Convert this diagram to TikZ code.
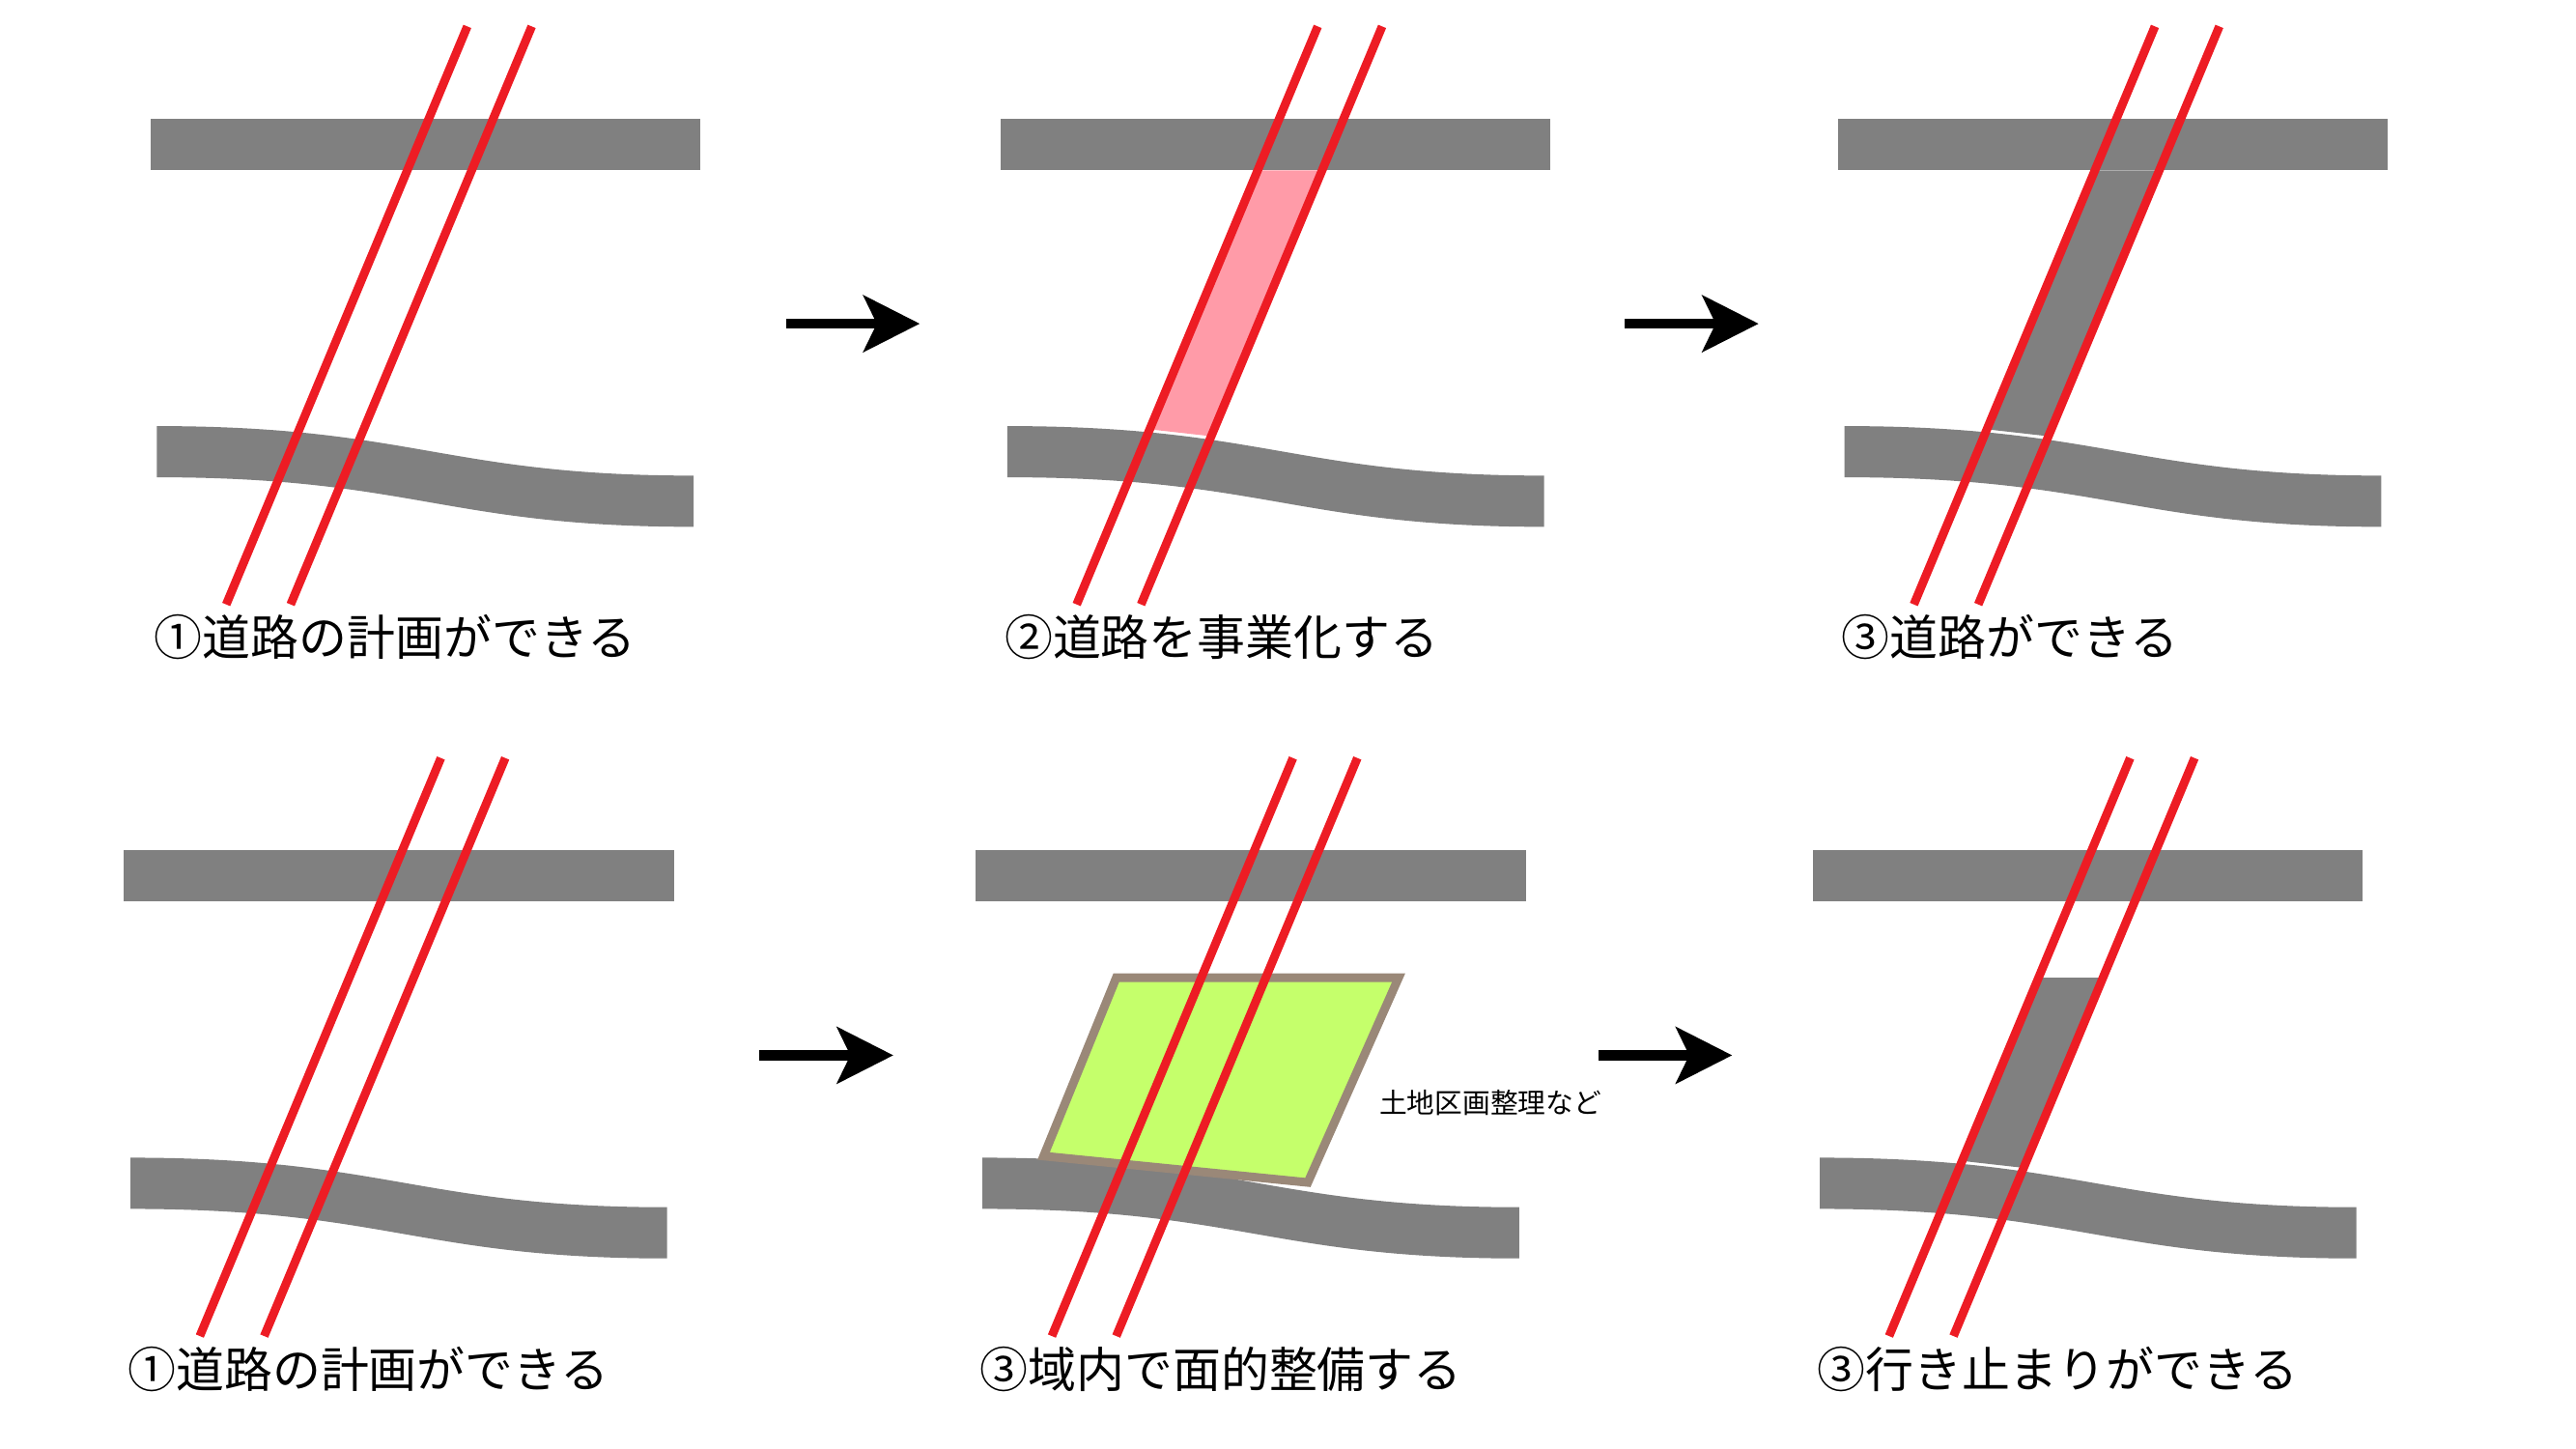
\documentclass[tikz,border=0pt]{standalone}
\usepackage{fontspec}
\setmainfont{Noto Sans CJK JP}
\usetikzlibrary{calc,arrows.meta}
\definecolor{roadgray}{HTML}{808080}
\definecolor{planred}{HTML}{ED1C24}
\definecolor{bizpink}{HTML}{FF9BA8}
\definecolor{areagreen}{HTML}{C5FF6B}
\definecolor{areabrown}{HTML}{9A8878}
% base: two roads and the planned line end points
\newcommand{\roadbase}{%
  \fill[road] (91,72) rectangle (424,103);
  \fill[road] (95,258) .. controls (250,258) and (270,288) .. (420,288)
    -- (420,319) .. controls (270,319) and (250,289) .. (95,289) -- cycle;
  \coordinate (a1) at (283,16);
  \coordinate (b1) at (137,366);
  \coordinate (a2) at (322,16);
  \coordinate (b2) at (176,366);
}
\newcommand{\planlines}{%
  \draw[plan] (a1) -- (b1);
  \draw[plan] (a2) -- (b2);
}
\begin{document}
\begin{tikzpicture}[x=0.5pt,y=-0.5pt,
    road/.style={fill=roadgray},
    plan/.style={draw=planred,line width=2.6pt},
    caption/.style={anchor=west,inner sep=0pt,font=\fontsize{14.6pt}{16pt}\selectfont},
    step arrow/.style={line width=3pt,-{Stealth[length=17pt,width=17pt,inset=4pt]}}]
  \useasboundingbox (0,0) rectangle (1560,877);
  % upper row
  \begin{scope}[name prefix=u1-]
    \roadbase
    \planlines
    \node[caption] (cap) at (93,386) {①道路の計画ができる};
  \end{scope}
  \begin{scope}[shift={(515,0)},name prefix=u2-]
    \roadbase
    \fill[bizpink] ($(a1)!0.249!(b1)$) -- ($(a2)!0.249!(b2)$)
      -- ($(a2)!0.709!(b2)$) -- ($(a1)!0.697!(b1)$) -- cycle;
    \planlines
    \node[caption] (cap) at (93,386) {②道路を事業化する};
  \end{scope}
  \begin{scope}[shift={(1022,0)},name prefix=u3-]
    \roadbase
    \fill[roadgray] ($(a1)!0.249!(b1)$) -- ($(a2)!0.249!(b2)$)
      -- ($(a2)!0.709!(b2)$) -- ($(a1)!0.697!(b1)$) -- cycle;
    \planlines
    \node[caption] (cap) at (93,386) {③道路ができる};
  \end{scope}
  % lower row
  \begin{scope}[shift={(-16,443)},name prefix=l1-]
    \roadbase
    \planlines
    \node[caption] (cap) at (93,386) {①道路の計画ができる};
  \end{scope}
  \begin{scope}[shift={(500,443)},name prefix=l2-]
    \roadbase
    \filldraw[fill=areagreen,draw=areabrown,line width=2.6pt]
      (176,149) -- (347,149) -- (292,273) -- (132,257) -- cycle;
    \planlines
    \node[caption] (cap) at (93,386) {③域内で面的整備する};
    \node[anchor=west,inner sep=0pt,font=\fontsize{8.4pt}{10pt}\selectfont]
      (note) at (335,225) {土地区画整理など};
  \end{scope}
  \begin{scope}[shift={(1007,443)},name prefix=l3-]
    \roadbase
    \fill[roadgray] ($(a1)!0.38!(b1)$) -- ($(a2)!0.38!(b2)$)
      -- ($(a2)!0.709!(b2)$) -- ($(a1)!0.697!(b1)$) -- cycle;
    \planlines
    \node[caption] (cap) at (93,386) {③行き止まりができる};
  \end{scope}
  % arrows between stages
  \coordinate (s1) at (476,196); \coordinate (e1) at (557,196);
  \coordinate (s2) at (984,196); \coordinate (e2) at (1065,196);
  \coordinate (s3) at (460,639); \coordinate (e3) at (541,639);
  \coordinate (s4) at (968,639); \coordinate (e4) at (1049,639);
  \foreach \i in {1,...,4}
    \draw[step arrow] (s\i) -- (e\i);
\end{tikzpicture}
\end{document}
